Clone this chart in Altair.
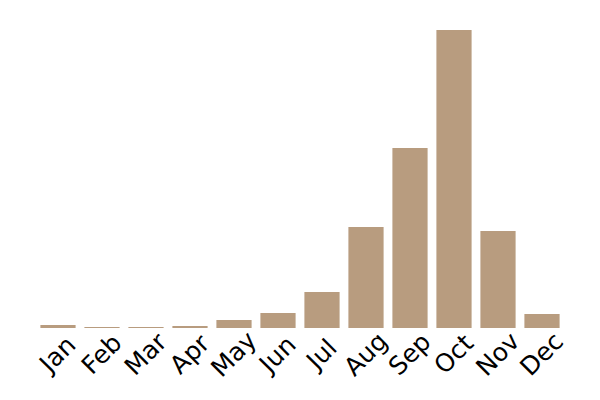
import altair as alt
import pandas as pd

months = ["Jan", "Feb", "Mar", "Apr", "May", "Jun", "Jul", "Aug", "Sep", "Oct", "Nov", "Dec"]
values = [3, 1, 1, 2, 8, 15, 36, 101, 180, 298, 97, 14]

df = pd.DataFrame({"month": months, "value": values})

chart = alt.Chart(df).mark_bar(color="#b89c7f").encode(
    x=alt.X("month:N", sort=months, title=None,
            scale=alt.Scale(paddingInner=0.2, paddingOuter=0.1),
            axis=alt.Axis(labelAngle=-45, labelFontSize=25, labelFont="DejaVu Sans",
                          labelAlign="center", labelBaseline="middle",
                          labelColor="black", domain=False, ticks=False, labelPadding=26)),
    y=alt.Y("value:Q", axis=None, scale=alt.Scale(domain=[0, 298], nice=False)),
).properties(
    width=528, height=298,
    autosize=alt.AutoSizeParams(type="none"),
    padding={"left": 28, "top": 22, "right": 20, "bottom": 70},
).configure_view(stroke=None)

chart.save("out.html", embed_options={"renderer": "svg", "actions": False})
